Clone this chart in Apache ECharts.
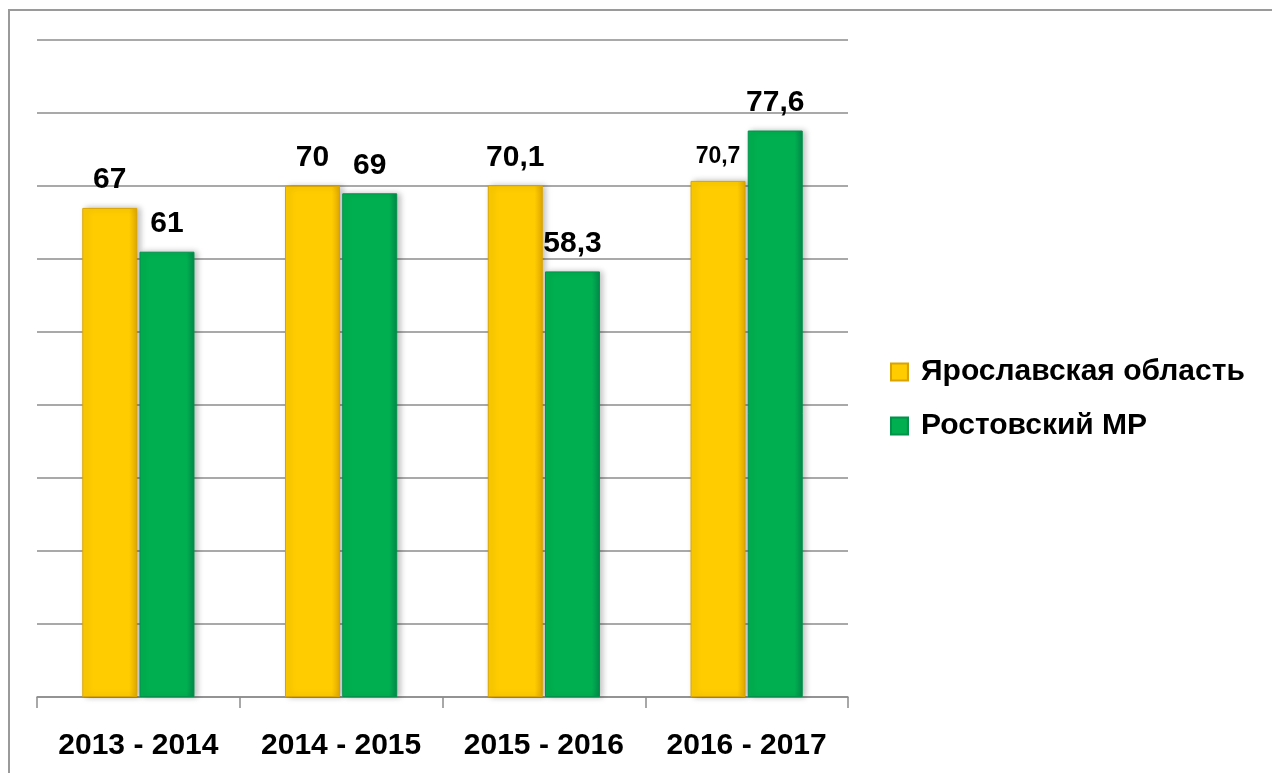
<!DOCTYPE html>
<html>
<head>
<meta charset="utf-8">
<script src="https://cdn.jsdelivr.net/npm/echarts@6/dist/echarts.min.js"></script>
<style>
  html, body { margin: 0; padding: 0; background: #fff; }
  #chart { width: 1272px; height: 773px; }
</style>
</head>
<body>
<div id="chart"></div>
<script>
  var categories = ['2013 - 2014', '2014 - 2015', '2015 - 2016', '2016 - 2017'];
  var seriesNames = ['Ярославская область', 'Ростовский МР'];
  var yaroslavl = [67, 70, 70.1, 70.7];
  var rostov = [61, 69, 58.3, 77.6];

  var FONT = '"Liberation Sans Narrow", "Arial Narrow", "Liberation Sans", Arial, sans-serif';

  function fmt(p){ return String(p.value).replace('.', ','); }

  function barColor(main, dark){
    return new echarts.graphic.LinearGradient(0, 0, 1, 0, [
      { offset: 0, color: main },
      { offset: 0.85, color: main },
      { offset: 1, color: dark }
    ]);
  }

  var chart = echarts.init(document.getElementById('chart'));
  chart.setOption({
    animation: false,
    graphic: [{
      type: 'rect',
      shape: { x: 9, y: 10, width: 1400, height: 900 },
      style: { fill: 'none', stroke: '#9a9a9a', lineWidth: 2 }
    }],
    grid: { left: 37, right: 424, top: 40, bottom: 76 },
    legend: {
      orient: 'vertical',
      left: 885,
      top: 352,
      itemWidth: 17,
      itemHeight: 17,
      itemGap: 24,
      icon: 'rect',
      textStyle: { fontFamily: FONT, fontWeight: 'bold', fontSize: 30, color: '#000', padding: [0, 0, 0, 8] },
      data: seriesNames
    },
    xAxis: {
      type: 'category',
      data: categories,
      axisLine: { show: true, lineStyle: { color: '#8c8c8c', width: 1.5 } },
      axisTick: { show: true, length: 11, lineStyle: { color: '#8c8c8c', width: 1.5 } },
      axisLabel: { interval: 0, fontFamily: FONT, fontWeight: 'bold', fontSize: 30, color: '#000', margin: 34 }
    },
    yAxis: {
      type: 'value',
      min: 0,
      max: 90,
      interval: 10,
      axisLabel: { show: false },
      axisLine: { show: false },
      axisTick: { show: false },
      splitLine: { lineStyle: { color: '#8c8c8c', width: 1.5 } }
    },
    series: [
      {
        name: seriesNames[0],
        type: 'bar',
        barWidth: 55,
        barGap: '4%',
        itemStyle: { color: barColor('#ffcc00', '#e0a800'), borderColor: '#d9a400', borderWidth: 1, shadowColor: 'rgba(0,0,0,0.25)', shadowBlur: 6, shadowOffsetX: 3 },
        label: { show: true, position: 'top', distance: 13, formatter: fmt, fontFamily: FONT, fontWeight: 'bold', fontSize: 30, color: '#000' },
        data: yaroslavl.map(function(v, i){
          return i === 3 ? { value: v, label: { fontSize: 23 } } : v;
        })
      },
      {
        name: seriesNames[1],
        type: 'bar',
        barWidth: 55,
        itemStyle: { color: barColor('#00b050', '#00894a'), borderColor: '#00914a', borderWidth: 1, shadowColor: 'rgba(0,0,0,0.25)', shadowBlur: 6, shadowOffsetX: 3 },
        label: { show: true, position: 'top', distance: 13, formatter: fmt, fontFamily: FONT, fontWeight: 'bold', fontSize: 30, color: '#000' },
        data: rostov
      }
    ]
  });
</script>
</body>
</html>
